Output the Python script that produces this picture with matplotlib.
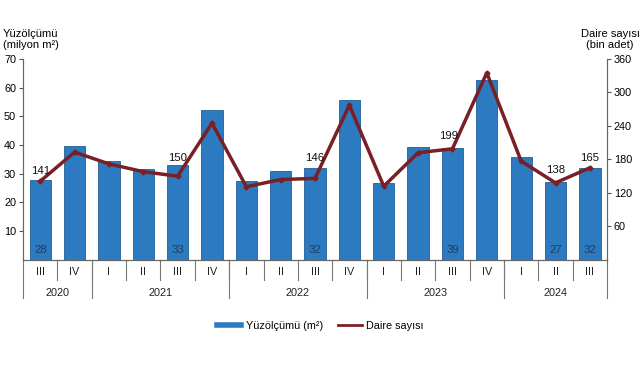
import matplotlib.pyplot as plt
from matplotlib.lines import Line2D
import matplotlib.transforms as mtransforms

plt.rcParams['font.family'] = ['Liberation Sans', 'DejaVu Sans']

# quarters and years
quarters = ['III', 'IV', 'I', 'II', 'III', 'IV', 'I', 'II', 'III', 'IV',
            'I', 'II', 'III', 'IV', 'I', 'II', 'III']
years = ['2020', '2021', '2022', '2023', '2024']
year_counts = [2, 4, 4, 4, 3]

# floor area (million m2) and number of dwellings (thousand)
area = [28, 39.5, 34.5, 31.8, 33, 52.2, 27.5, 31, 32, 55.6,
        26.9, 39.3, 39, 62.7, 36, 27, 32]
units = [141, 193, 172, 158, 150, 245, 131, 144, 146, 277,
         132, 192, 199, 335, 177, 138, 165]
labeled = [0, 4, 8, 12, 15, 16]
# label lift above the point, in points
lift = {0: 7, 4: 13, 8: 15, 12: 9, 15: 9, 16: 7}
shift = {12: -3}

bar_color = '#2C7BC0'
line_color = '#7A1F25'

fig = plt.figure(figsize=(6.41, 3.80), dpi=100)
ax = fig.add_axes([0.036, 0.316, 0.911, 0.529])
ax2 = ax.twinx()

x = list(range(len(quarters)))
ax.bar(x, area, width=0.62, color=bar_color, edgecolor='#1F5E98', linewidth=0.6, zorder=2)
ax2.plot(x, units, color=line_color, lw=2.5, marker='D', markersize=2.5, zorder=3)

ax.set_xlim(-0.5, len(quarters) - 0.5)
ax.set_ylim(0, 70)
ax2.set_ylim(0, 360)
ax.set_yticks(range(10, 71, 10))
ax2.set_yticks(range(60, 361, 60))
ax.tick_params(axis='y', labelsize=7.8, length=3, pad=2, color='#555555')
ax2.tick_params(axis='y', labelsize=7.8, length=3, pad=2, color='#555555')
ax.set_xticks([])

for a in (ax, ax2):
    a.spines['top'].set_visible(False)
    for s in ('left', 'right', 'bottom'):
        a.spines[s].set_color('#666666')
        a.spines[s].set_linewidth(0.8)

for i in labeled:
    ax.text(i, 3.6, f'{area[i]:.0f}', ha='center', va='center', fontsize=8.2, color='#1F3A5F', zorder=4)
    ax2.annotate(f'{units[i]}', (i, units[i]), xytext=(shift.get(i, 0), lift[i]), textcoords='offset points',
                 ha='center', va='center', fontsize=8.2, color='#111111', zorder=4)

# two-level category axis
trans = mtransforms.blended_transform_factory(ax.transData, ax.transAxes)
for i, q in enumerate(quarters):
    ax.text(i, -0.06, q, transform=trans, ha='center', va='center', fontsize=7.8, color='#222222')
for b in range(1, len(quarters)):
    ax.plot([b - 0.5, b - 0.5], [0, -0.1], transform=trans, color='#777777', lw=0.8, clip_on=False)
start = 0
bounds = [-0.5]
for y, n in zip(years, year_counts):
    ax.text(start + (n - 1) / 2, -0.165, y, transform=trans, ha='center', va='center', fontsize=7.8, color='#222222')
    start += n
    bounds.append(start - 0.5)
for b in bounds:
    ax.plot([b, b], [0, -0.19], transform=trans, color='#777777', lw=0.8, clip_on=False)

fig.text(0.004, 0.896, 'Yüzölçümü\n(milyon m²)', ha='left', va='center', fontsize=8, linespacing=1.05)
fig.text(0.998, 0.896, 'Daire sayısı\n(bin adet)', ha='right', va='center', fontsize=8, linespacing=1.05,
         multialignment='center')

handles = [Line2D([0], [0], color=bar_color, lw=4),
           Line2D([0], [0], color=line_color, lw=2)]
fig.legend(handles, ['Yüzölçümü (m²)', 'Daire sayısı'], loc='center', bbox_to_anchor=(0.5, 0.142),
           ncol=2, frameon=False, fontsize=7.8, handlelength=2.2, columnspacing=1.4, handletextpad=0.4)

fig.savefig('out.png', dpi=100)
